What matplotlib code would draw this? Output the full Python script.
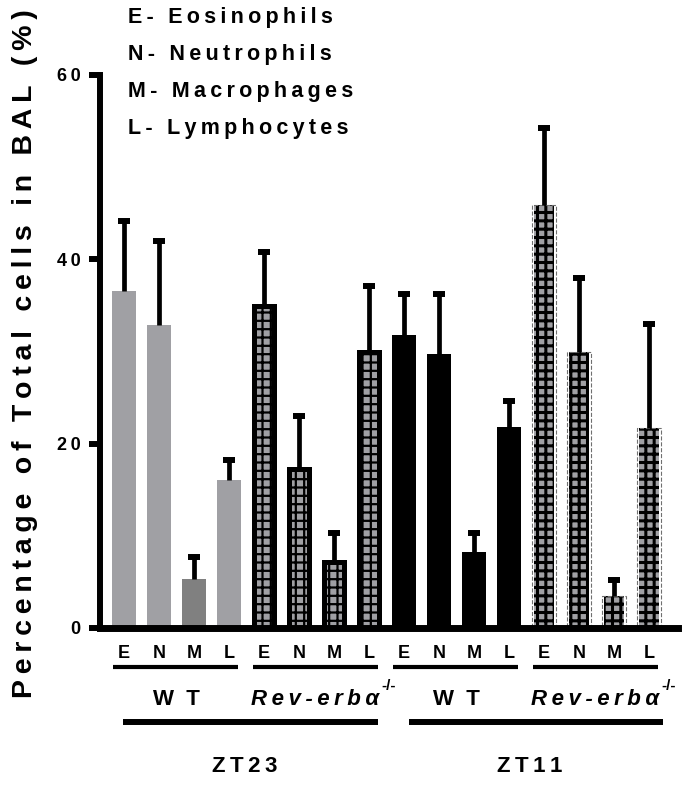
import numpy as np
import matplotlib.pyplot as plt

plt.rcParams['font.family'] = ['Liberation Sans', 'DejaVu Sans']
plt.rcParams['font.weight'] = 'bold'

cells = ['E', 'N', 'M', 'L']
genotypes = ['WT', 'Rev-erbα']
times = ['ZT23', 'ZT11']
legend_lines = ['E- Eosinophils', 'N- Neutrophils', 'M- Macrophages', 'L- Lymphocytes']

wt_zt23 = [36.6, 32.9, 5.3, 16.1]
wt_zt23_err = [7.6, 9.1, 2.4, 2.1]
rev_zt23 = [34.9, 17.2, 7.2, 29.9]
rev_zt23_err = [5.9, 5.8, 3.1, 7.2]
wt_zt11 = [31.8, 29.7, 8.2, 21.8]
wt_zt11_err = [4.4, 6.5, 2.1, 2.8]
rev_zt11 = [45.9, 29.9, 3.5, 21.7]
rev_zt11_err = [8.3, 8.1, 1.7, 11.3]

yticks = [0, 20, 40, 60]


def spaced(s, sp='\u2009'):
    return sp.join(s)


light = '#a0a0a4'
dark = '#808080'

fig = plt.figure(figsize=(6.99, 7.88), dpi=100)
ax = fig.add_axes([100 / 699, 1 - 628 / 788, 578 / 699, 553 / 788])

w = 0.69
x0 = np.arange(0, 4)
x1 = np.arange(4, 8)
x2 = np.arange(8, 12)
x3 = np.arange(12, 16)

# WT ZT23: plain grey, macrophage bar darker
ax.bar(x0, wt_zt23, w, color=[light, light, dark, light], linewidth=0, zorder=2)

# Rev-erb ZT23: thick black border, grey inside with black grid
with plt.rc_context({'hatch.linewidth': 1.6}):
    ax.bar(x1, rev_zt23, 0.56, color=light, edgecolor='black', linewidth=3.6,
           hatch='++', zorder=2)

# WT ZT11: black
ax.bar(x2, wt_zt11, w, color='black', linewidth=0, zorder=2)

# Rev-erb ZT11: grey with black chequer, thin grey edge
with plt.rc_context({'hatch.linewidth': 2.2}):
    ax.bar(x3, rev_zt11, w - 0.12, color=light, edgecolor='black', linewidth=0,
           hatch='++', zorder=2)
ax.bar(x3, rev_zt11, w, fill=False, edgecolor='#707070', linewidth=0.8,
       linestyle='--', zorder=2)

xs = np.concatenate([x0, x1, x2, x3])
vals = np.concatenate([wt_zt23, rev_zt23, wt_zt11, rev_zt11])
errs = np.concatenate([wt_zt23_err, rev_zt23_err, wt_zt11_err, rev_zt11_err])
_, caps, _ = ax.errorbar(xs, vals, yerr=[np.zeros_like(errs), errs], fmt='none',
                         ecolor='black', elinewidth=3.4, capsize=4.3, capthick=4.3,
                         zorder=3)
caps[0].set_visible(False)

ax.set_xlim(-0.686, 15.83)
ax.set_ylim(0, 60)
for s in ['top', 'right']:
    ax.spines[s].set_visible(False)
ax.spines['left'].set_linewidth(4.3)
ax.spines['bottom'].set_linewidth(5)
ax.spines['left'].set_zorder(4)
ax.spines['bottom'].set_zorder(4)

ax.set_yticks(yticks)
ax.set_yticklabels([spaced(str(t)) for t in yticks], fontsize=13, fontweight='bold')
ax.tick_params(axis='y', length=8, width=4.3, pad=6)
ax.set_xticks(xs)
ax.set_xticklabels(cells * 4, fontsize=13, fontweight='bold')
ax.tick_params(axis='x', length=0, pad=12)

ax.set_ylabel(spaced('Percentage of Total cells in BAL (%)'),
              fontsize=20.5, fontweight='bold', va='center')
ax.yaxis.set_label_coords(-0.13, 0.497)

trans = ax.get_xaxis_transform()

# underlines below each E N M L group
for xg in [x0, x1, x2, x3]:
    ax.plot([xg[0] - 0.32, xg[-1] + 0.26], [-0.0705, -0.0705], color='black',
            linewidth=3, transform=trans, clip_on=False, solid_capstyle='butt')

# genotype labels
for k, xg in enumerate([x0, x1, x2, x3]):
    g = genotypes[k % 2]
    if g == 'WT':
        ax.text(xg.mean(), -0.13, spaced(g, '  '), transform=trans, ha='center',
                va='center', fontsize=16, fontweight='bold')
    else:
        t = ax.text(xg.mean() - 0.05, -0.13, spaced(g), transform=trans,
                    ha='center', va='center', fontsize=16, fontweight='bold',
                    fontstyle='italic')
        ax.annotate('-/-', xy=(1, 0.85), xycoords=t, xytext=(2, 0),
                    textcoords='offset points', ha='left', va='bottom',
                    fontsize=11, fontweight='bold', annotation_clip=False)

# time of day lines and labels
for k, (a, b) in enumerate([(-0.02, 7.25), (8.15, 15.4)]):
    ax.plot([a, b], [-0.17, -0.17], color='black', linewidth=4.3,
            transform=trans, clip_on=False, solid_capstyle='butt')
ax.text(3.46, -0.251, spaced(times[0]), transform=trans, ha='center', va='center',
        fontsize=16, fontweight='bold')
ax.text(11.6, -0.251, spaced(times[1]), transform=trans, ha='center', va='center',
        fontsize=16, fontweight='bold')

# key text at the top
for k, line in enumerate(legend_lines):
    ax.text(0.11, 1 + (75 - 18 - 37 * k) / 553, spaced(line), transform=trans,
            ha='left', va='center', fontsize=15.5, fontweight='bold')

fig.savefig('out.png', dpi=100)
